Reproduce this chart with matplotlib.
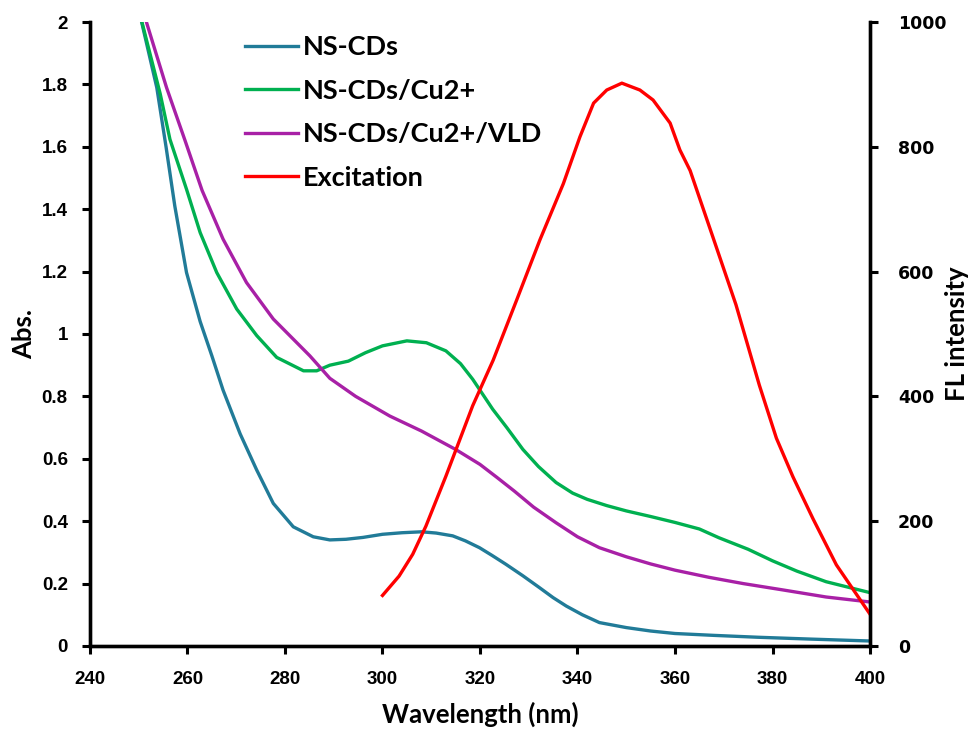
import matplotlib
matplotlib.use("Agg")
import matplotlib.pyplot as plt
from matplotlib import font_manager
from matplotlib.ticker import MultipleLocator, FuncFormatter

# Absorbance spectra (left axis)
wl_cds = [250, 253.7, 255.6, 257.4, 259.8, 262.6, 265, 267.3, 270.8, 274.2, 277.6, 281.7,
          285.8, 289.2, 292.5, 296, 300, 304, 308, 311, 314.4, 317, 319.9, 322.5, 325.3,
          328.8, 332.2, 335, 337.7, 341, 344.5, 350, 355, 360, 368, 377, 388, 400]
abs_cds = [2.04, 1.79, 1.6, 1.41, 1.197, 1.04, 0.93, 0.82, 0.68, 0.564, 0.457, 0.382,
           0.35, 0.34, 0.342, 0.348, 0.358, 0.363, 0.366, 0.362, 0.353, 0.337, 0.315, 0.29,
           0.262, 0.225, 0.187, 0.155, 0.128, 0.1, 0.075, 0.059, 0.048, 0.04, 0.034, 0.028,
           0.022, 0.016]

wl_cu = [250, 254.4, 256.4, 259.8, 262.6, 266, 270.1, 274.2, 278.3, 283.8, 286.5, 289.2, 293,
         296.5, 300, 305, 309, 313, 316, 318.5, 322.6, 325.5, 328.8, 332, 335.6, 339, 342, 346,
         350, 355, 360, 365, 369, 375, 380, 385, 391, 400]
abs_cu = [2.04, 1.77, 1.624, 1.464, 1.325, 1.197, 1.08, 0.995, 0.925, 0.882, 0.882, 0.9, 0.913,
          0.94, 0.962, 0.978, 0.972, 0.946, 0.905, 0.855, 0.759, 0.70, 0.63, 0.575, 0.524,
          0.49, 0.47, 0.45, 0.433, 0.415, 0.396, 0.375, 0.347, 0.31, 0.273, 0.24, 0.206, 0.171]

wl_vld = [250, 255.7, 259.5, 263, 267.3, 272.1, 277.6, 285.1, 289.2, 294.5, 301.5, 308,
          315, 320, 323.5, 327, 331, 335.6, 340, 344.5, 350, 355, 360, 367, 374, 382, 391, 400]
abs_vld = [2.08, 1.79, 1.62, 1.46, 1.304, 1.165, 1.048, 0.93, 0.858, 0.80, 0.737, 0.689,
           0.63, 0.582, 0.54, 0.497, 0.445, 0.395, 0.35, 0.315, 0.286, 0.263, 0.243, 0.22,
           0.20, 0.18, 0.157, 0.141]

# Excitation spectrum (right axis)
wl_ex = [300, 303.4, 306.2, 308.9, 313, 318.5, 322.7, 327.5, 332.3, 337.1, 340.5, 343.3, 346,
         349.1, 352.8, 355.5, 359, 361, 363.1, 367.7, 372.5, 377.3, 380.8, 384.2, 388.3,
         393.1, 400]
fl_ex = [81, 112, 147, 192, 272, 385, 458, 554, 651, 741, 816, 870, 891, 902, 891, 875, 838,
         795, 762, 657, 547, 418, 333, 271, 204, 130, 51]

labels = ["NS-CDs", "NS-CDs/Cu2+", "NS-CDs/Cu2+/VLD", "Excitation"]
colors = ["#217B98", "#00B050", "#A820A6", "#FF0000"]


def bold_family(cands):
    # first family in the list that actually has a bold face installed
    for fam in cands:
        for f in font_manager.fontManager.ttflist:
            w = f.weight if isinstance(f.weight, int) else 700 if "bold" in str(f.weight) else 400
            if f.name == fam and w >= 600 and f.style == "normal":
                return fam
    return "DejaVu Sans"


lab_font = [bold_family(["Lato", "Noto Sans", "Open Sans", "Liberation Sans"]), "DejaVu Sans"]
tick_font = ["Liberation Sans Narrow", "Liberation Sans", "DejaVu Sans"]

fig = plt.figure(figsize=(9.76, 7.36), dpi=100)
ax = fig.add_axes([0.0922, 0.1223, 0.7992, 0.8478])
ax2 = ax.twinx()

l1, = ax.plot(wl_cds, abs_cds, color=colors[0], lw=2.4, label=labels[0])
l2, = ax.plot(wl_cu, abs_cu, color=colors[1], lw=2.4, label=labels[1])
l3, = ax.plot(wl_vld, abs_vld, color=colors[2], lw=2.4, label=labels[2])
l4, = ax2.plot(wl_ex, fl_ex, color=colors[3], lw=2.4, label=labels[3])

ax.set_xlim(240, 400)
ax.set_ylim(0, 2)
ax2.set_ylim(0, 1000)
ax.xaxis.set_major_locator(MultipleLocator(20))
ax.yaxis.set_major_locator(MultipleLocator(0.2))
ax2.yaxis.set_major_locator(MultipleLocator(200))
ax.yaxis.set_major_formatter(FuncFormatter(lambda v, p: f"{v:g}"))

for a in (ax, ax2):
    a.spines["top"].set_visible(False)
    for s in ("left", "right", "bottom"):
        a.spines[s].set_linewidth(2.4)
    a.tick_params(direction="out", length=6, width=2.2)

for t in ax.get_xticklabels() + ax.get_yticklabels():
    t.set_family(tick_font)
    t.set_fontweight("bold")
    t.set_fontsize(13.5)
for t in ax2.get_yticklabels():
    t.set_family("DejaVu Sans")
    t.set_fontweight("bold")
    t.set_fontsize(12.5)

ax.tick_params(axis="x", pad=12)
ax.tick_params(axis="y", pad=10)
ax2.tick_params(axis="y", pad=14)

ax.set_xlabel("Wavelength (nm)", family=lab_font, fontweight="bold", fontsize=18.5, labelpad=10)
ax.set_ylabel("Abs.", family=lab_font, fontweight="bold", fontsize=18.5, labelpad=4)
ax2.set_ylabel("FL intensity", family=lab_font, fontweight="bold", fontsize=18.5, labelpad=-1)

leg = ax2.legend(handles=[l1, l2, l3, l4], loc="upper left",
                 bbox_to_anchor=(245 / 976, 1 - 35 / 736), bbox_transform=fig.transFigure,
                 frameon=False, handlelength=1.95, handletextpad=0.2, labelspacing=0.72,
                 borderpad=0, borderaxespad=0,
                 prop={"family": lab_font, "weight": "bold", "size": 19.5})

fig.savefig("out.png", dpi=100)
